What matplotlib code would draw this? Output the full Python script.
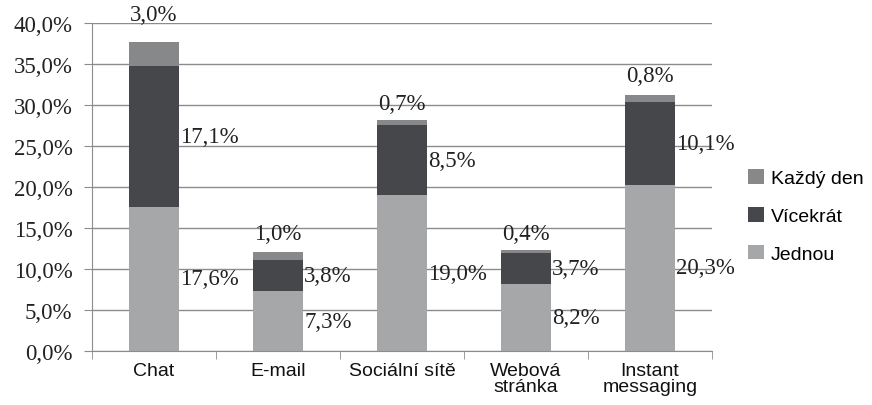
import numpy as np
import matplotlib.pyplot as plt
from matplotlib.ticker import FuncFormatter

categories = ["Chat", "E-mail", "Sociální sítě", "Webová\nstránka", "Instant\nmessaging"]
jednou = [17.6, 7.3, 19.0, 8.2, 20.3]
vicekrat = [17.1, 3.8, 8.5, 3.7, 10.1]
kazdy_den = [3.0, 1.0, 0.7, 0.4, 0.8]

c_jednou = "#a6a7a9"
c_vicekrat = "#46474a"
c_kazdy = "#87888a"
grid_c = "#8c8c8c"
serif = ["Liberation Serif", "DejaVu Serif"]
sans = ["Liberation Sans", "DejaVu Sans"]

def pct(v):
    return ("%.1f%%" % v).replace(".", ",")

fig = plt.figure(figsize=(8.72, 4.06), dpi=100)
ax = fig.add_axes([0.1055, 0.133, 0.711, 0.808])

x = np.arange(len(categories))
w = 0.4
j = np.array(jednou)
v = np.array(vicekrat)
k = np.array(kazdy_den)
ax.bar(x, j, w, color=c_jednou, label="Jednou", zorder=3)
ax.bar(x, v, w, bottom=j, color=c_vicekrat, label="Vícekrát", zorder=3)
ax.bar(x, k, w, bottom=j + v, color=c_kazdy, label="Každý den", zorder=3)

# data labels
top_off = [20, 13, 12, 12, 14]
for i in range(len(x)):
    ax.annotate(pct(j[i]), (x[i] + w / 2, j[i] / 2), xytext=(1, 0), textcoords="offset points",
                ha="left", va="center", fontsize=16.5, family=serif, color="#222222", zorder=4)
    ax.annotate(pct(v[i]), (x[i] + w / 2, j[i] + v[i] / 2), xytext=(1, 0), textcoords="offset points",
                ha="left", va="center", fontsize=16.5, family=serif, color="#222222", zorder=4)
    ax.annotate(pct(k[i]), (x[i], j[i] + v[i] + k[i]), xytext=(0, top_off[i]), textcoords="offset points",
                ha="center", va="center", fontsize=16.5, family=serif, color="#222222", zorder=4,
                annotation_clip=False)

ax.set_ylim(0, 40)
ax.set_xlim(-0.5, len(categories) - 0.5)
ax.set_yticks(np.arange(0, 40.1, 5))
ax.yaxis.set_major_formatter(FuncFormatter(lambda val, pos: pct(val)))
ax.yaxis.grid(True, color=grid_c, linewidth=1, zorder=0)
for lab in ax.get_yticklabels():
    lab.set_family(serif)
    lab.set_fontsize(16.5)
    lab.set_color("#222222")
ax.tick_params(axis="y", length=6, color=grid_c, pad=8)

ax.set_xticks(x)
ax.set_xticklabels(categories, fontsize=14, family=sans, color="#111111", linespacing=0.9)
ax.set_xticks(np.arange(-0.5, len(categories)), minor=True)
ax.tick_params(axis="x", which="major", length=0, pad=8)
ax.tick_params(axis="x", which="minor", length=6, color=grid_c)

for s in ["top", "right"]:
    ax.spines[s].set_visible(False)
ax.spines["left"].set_color(grid_c)
ax.spines["bottom"].set_color(grid_c)

handles, labels = ax.get_legend_handles_labels()
leg = fig.legend(handles[::-1], labels[::-1], loc="center left", bbox_to_anchor=(0.838, 0.4655),
                 frameon=False, prop={"family": sans, "size": 14}, handlelength=0.8, handleheight=0.8,
                 handletextpad=0.36, labelspacing=1.0)

fig.savefig("out.png", dpi=100)
